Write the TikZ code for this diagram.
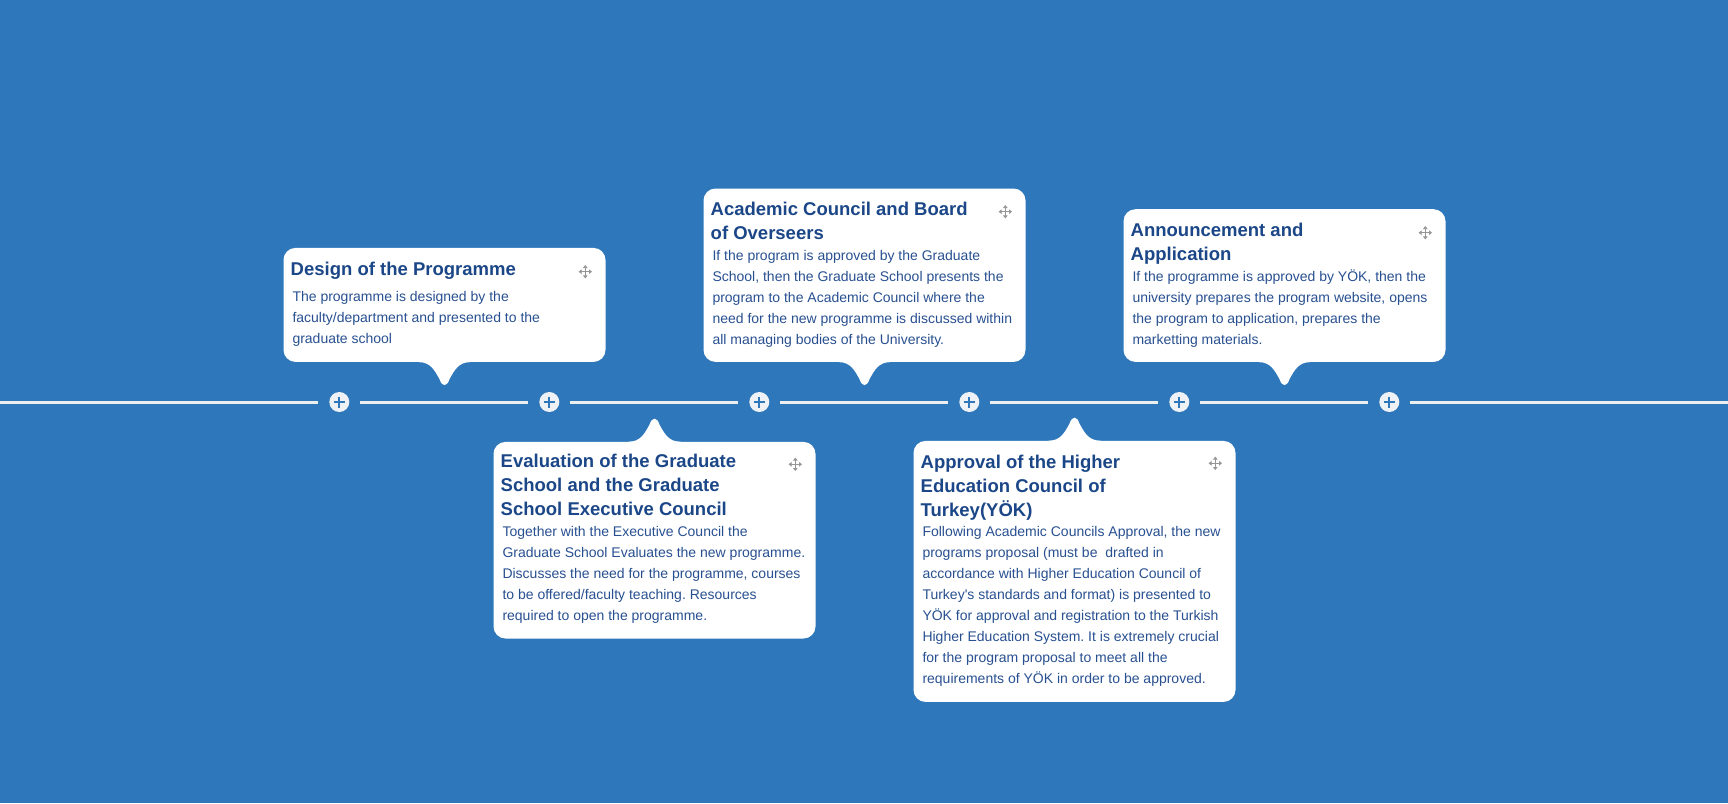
\documentclass[tikz,border=0pt]{standalone}
\usepackage{fontspec}
\setmainfont{Liberation Sans}
\usetikzlibrary{arrows.meta}
\frenchspacing

\definecolor{tlblue}{RGB}{46,119,187}
\definecolor{titleblue}{RGB}{27,70,135}
\definecolor{textblue}{RGB}{40,80,145}
\definecolor{dotfill}{RGB}{238,241,245}
\definecolor{linegray}{RGB}{236,238,240}
\definecolor{icongray}{RGB}{150,150,150}

\begin{document}
\begin{tikzpicture}[x=1pt, y=-1pt,
	card/.style={rectangle, rounded corners=12pt, fill=white, minimum width=322pt, inner sep=0pt, anchor=north west},
	cardtitle/.style={anchor=base west, inner sep=0pt, align=left, text=titleblue, font=\bfseries\fontsize{18.5}{24}\selectfont},
	cardtext/.style={anchor=base west, inner sep=0pt, align=left, text=textblue, font=\fontsize{14}{21}\selectfont},
	tline/.style={draw=linegray, line width=3pt},
	plusdot/.style={circle, fill=dotfill, minimum size=20pt, inner sep=0pt, outer sep=11pt, path picture={\draw[tlblue, line width=2pt] ([xshift=-5.5pt]path picture bounding box.center) -- ([xshift=5.5pt]path picture bounding box.center) ([yshift=-5.5pt]path picture bounding box.center) -- ([yshift=5.5pt]path picture bounding box.center);}},
	moveicon/.style={minimum size=13pt, inner sep=0pt},
	movearrow/.style={draw=icongray, line width=1.2pt, {Triangle[length=3pt, width=4.5pt]}-{Triangle[length=3pt, width=4.5pt]}},
	notch/.pic={\fill[white] (-26,-2) -- (-26,0) .. controls (-14,0) and (-10,8) .. (-5,17) .. controls (-2.5,25) and (2.5,25) .. (5,17) .. controls (10,8) and (14,0) .. (26,0) -- (26,-2) -- cycle;}
	]
	
	% Background
	\useasboundingbox (0,0) rectangle (1728,803);
	\fill[tlblue] (0,0) rectangle (1728,803);
	
	% Timeline
	\coordinate (lstart) at (0,402);
	\coordinate (lend) at (1728,402);
	\node[plusdot] (p1) at (339.3,402) {};
	\node[plusdot] (p2) at (549.3,402) {};
	\node[plusdot] (p3) at (759.3,402) {};
	\node[plusdot] (p4) at (969.3,402) {};
	\node[plusdot] (p5) at (1179.3,402) {};
	\node[plusdot] (p6) at (1389.3,402) {};
	\draw[tline] (lstart) -- (p1);
	\draw[tline] (p1) -- (p2);
	\draw[tline] (p2) -- (p3);
	\draw[tline] (p3) -- (p4);
	\draw[tline] (p4) -- (p5);
	\draw[tline] (p5) -- (p6);
	\draw[tline] (p6) -- (lend);
	
	% Design of the Programme (texts placed at their last baseline)
	\node[card, minimum height=114pt] (design) at (283.3,247.7) {};
	\pic at (design.south) {notch};
	\node[cardtitle] (designtitle) at (290.5,275) {Design of the Programme};
	\node[cardtext] (designtext) at (292.3,343) {The programme is designed by the\\faculty/department and presented to the\\graduate school};
	\node[moveicon] (designmove) at (585.3,271.7) {};
	\draw[movearrow] (designmove.west) -- (designmove.east);
	\draw[movearrow] (designmove.north) -- (designmove.south);
	
	% Evaluation of the Graduate School
	\node[card, minimum height=196.6pt] (evaluation) at (493.3,441.7) {};
	\pic[yscale=-1] at (evaluation.north) {notch};
	\node[cardtitle] (evaluationtitle) at (500.5,515.3) {Evaluation of the Graduate\\School and the Graduate\\School Executive Council};
	\node[cardtext] (evaluationtext) at (502.3,620) {Together with the Executive Council the\\Graduate School Evaluates the new programme.\\Discusses the need for the programme, courses\\to be offered/faculty teaching. Resources\\required to open the programme.};
	\node[moveicon] (evaluationmove) at (795.3,464.3) {};
	\draw[movearrow] (evaluationmove.west) -- (evaluationmove.east);
	\draw[movearrow] (evaluationmove.north) -- (evaluationmove.south);
	
	% Academic Council
	\node[card, minimum height=173.4pt] (academic) at (703.3,188.3) {};
	\pic at (academic.south) {notch};
	\node[cardtitle] (academictitle) at (710.5,239) {Academic Council and Board\\of Overseers};
	\node[cardtext] (academictext) at (712.3,344) {If the program is approved by the Graduate\\School, then the Graduate School presents the\\program to the Academic Council where the\\need for the new programme is discussed within\\all managing bodies of the University.};
	\node[moveicon] (academicmove) at (1005.3,211.7) {};
	\draw[movearrow] (academicmove.west) -- (academicmove.east);
	\draw[movearrow] (academicmove.north) -- (academicmove.south);
	
	% Approval of YÖK
	\node[card, minimum height=261pt] (approval) at (913.3,440.7) {};
	\pic[yscale=-1] at (approval.north) {notch};
	\node[cardtitle] (approvaltitle) at (920.5,516.3) {Approval of the Higher\\Education Council of\\Turkey(YÖK)};
	\node[cardtext] (approvaltext) at (922.3,683) {Following Academic Councils Approval, the new\\programs proposal (must be \ drafted in\\accordance with Higher Education Council of\\Turkey\textquotesingle s standards and format) is presented to\\YÖK for approval and registration to the Turkish\\Higher Education System. It is extremely crucial\\for the program proposal to meet all the\\requirements of YÖK in order to be approved.};
	\node[moveicon] (approvalmove) at (1215.3,463.3) {};
	\draw[movearrow] (approvalmove.west) -- (approvalmove.east);
	\draw[movearrow] (approvalmove.north) -- (approvalmove.south);
	
	% Announcement and Application
	\node[card, minimum height=152.7pt] (announce) at (1123.3,209) {};
	\pic at (announce.south) {notch};
	\node[cardtitle] (announcetitle) at (1130.5,260) {Announcement and\\Application};
	\node[cardtext] (announcetext) at (1132.3,344) {If the programme is approved by YÖK, then the\\university prepares the program website, opens\\the program to application, prepares the\\marketting materials.};
	\node[moveicon] (announcemove) at (1425.3,232.7) {};
	\draw[movearrow] (announcemove.west) -- (announcemove.east);
	\draw[movearrow] (announcemove.north) -- (announcemove.south);
\end{tikzpicture}
\end{document}
